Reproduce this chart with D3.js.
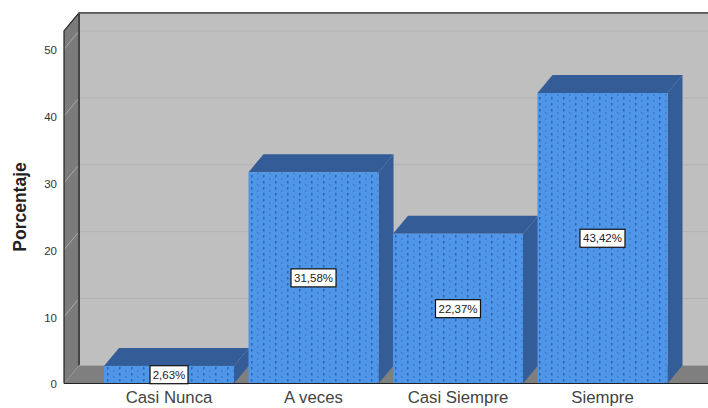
<!DOCTYPE html>
<html><head><meta charset="utf-8">
<script src="https://cdn.jsdelivr.net/npm/d3@7"></script>
<style>html,body{margin:0;padding:0;background:#fff;overflow:hidden}svg{display:block}text{font-family:"Liberation Sans",Arial,sans-serif}</style>
</head><body><div id="c"></div>
<script>
const categories=["Casi Nunca","A veces","Casi Siempre","Siempre"];
const values=[2.63,31.58,22.37,43.42];
const valueLabels=["2,63%","31,58%","22,37%","43,42%"];
const yTicks=[0,10,20,30,40,50];
const W=708,H=408,dx=15,dy=18,x0=64,yb=383.5;
const svg=d3.select("#c").append("svg").attr("width",W).attr("height",H);
const y=d3.scaleLinear().domain([0,52.7]).range([yb,yb-52.7*6.69]);
const x=d3.scaleBand().domain(categories).range([104,667.5]).paddingInner(0.1);
const line=p=>d3.line()(p)+"Z";
const defs=svg.append("defs");
const pat=defs.append("pattern").attr("id","dots").attr("patternUnits","userSpaceOnUse").attr("width",12).attr("height",6).attr("x",104).attr("y",0);
pat.append("rect").attr("width",12).attr("height",6).attr("fill","#4f95e8");
pat.append("rect").attr("x",3).attr("y",1).attr("width",1.5).attr("height",2.5).attr("fill","#2a66b8");
pat.append("rect").attr("x",9).attr("y",4).attr("width",1.5).attr("height",2).attr("fill","#3f7fd0");
const plotTop=y(y.domain()[1]);
// back wall, left wall, floor
svg.append("path").attr("d",line([[x0+dx,plotTop-dy],[W,plotTop-dy],[W,yb-dy],[x0+dx,yb-dy]])).attr("fill","#bfbfbf");
svg.append("path").attr("d",line([[x0,plotTop],[x0+dx,plotTop-dy],[x0+dx,yb-dy],[x0,yb]])).attr("fill","#7b7b7b");
svg.append("path").attr("d",line([[x0,yb],[x0+dx,yb-dy],[W,yb-dy],[W,yb]])).attr("fill","#7f7f7f");
// gridlines
yTicks.slice(1).forEach(t=>{
 svg.append("line").attr("x1",x0+dx).attr("x2",W).attr("y1",y(t)-dy).attr("y2",y(t)-dy).attr("stroke","#b2b2b2");
 svg.append("line").attr("x1",x0).attr("x2",x0+dx).attr("y1",y(t)).attr("y2",y(t)-dy).attr("stroke","#a8a8a8");
});
// frame
svg.append("path").attr("d",d3.line()([[x0,yb],[x0,plotTop],[x0+dx,plotTop-dy],[W,plotTop-dy]])).attr("fill","none").attr("stroke","#222").attr("stroke-width",1.2);
svg.append("line").attr("x1",x0+dx).attr("x2",x0+dx).attr("y1",plotTop-dy).attr("y2",yb-dy).attr("stroke","#444").attr("stroke-width",2);
svg.append("line").attr("x1",x0+dx).attr("x2",W).attr("y1",yb-dy).attr("y2",yb-dy).attr("stroke","#a5a5a5");
// bars
const g=svg.selectAll("g.b").data(categories).join("g").attr("class","b");
const bw=x.bandwidth();
g.append("path").attr("d",(c,i)=>{const l=x(c),r=l+bw,t=y(values[i]);return line([[l,t],[l+dx,t-dy],[r+dx,t-dy],[r,t]])}).attr("fill","#345d98");
g.append("path").attr("d",(c,i)=>{const r=x(c)+bw,t=y(values[i]);return line([[r,t],[r+dx,t-dy],[r+dx,yb-dy],[r,yb]])}).attr("fill","#345d98");
g.append("rect").attr("x",c=>x(c)).attr("y",(c,i)=>y(values[i])).attr("width",bw).attr("height",(c,i)=>yb-y(values[i])).attr("fill","url(#dots)");
// axis base
svg.append("line").attr("x1",x0).attr("x2",W).attr("y1",yb).attr("y2",yb).attr("stroke","#222").attr("stroke-width",1.2);
// y axis
const ya=d3.axisLeft(y).tickValues(yTicks).tickSize(0).tickPadding(7);
const yg=svg.append("g").attr("transform",`translate(${x0},0)`).call(ya);
yg.select(".domain").remove();
yg.selectAll("text").attr("font-size",11.5).attr("fill","#333").attr("font-family","Liberation Sans").attr("dy",t=>t?"0.42em":"0.32em");
svg.append("text").attr("transform","translate(25.5,207) rotate(-90)").attr("text-anchor","middle").attr("font-size",17.5).attr("font-weight","bold").attr("fill","#222").text("Porcentaje");
// x axis
const xa=d3.axisBottom(x).tickSize(0).tickPadding(8);
const xg=svg.append("g").attr("transform",`translate(0,${yb})`).call(xa);
xg.select(".domain").remove();
xg.selectAll("text").attr("font-size",16.8).attr("fill","#444").attr("font-family","Liberation Sans");
// value labels
const lg=svg.selectAll("g.l").data(categories).join("g").attr("class","l")
 .attr("transform",(c,i)=>`translate(${x(c)+bw/2},${y(values[i]/2)})`);
lg.append("rect").attr("x",(c,i)=>i?-22.5:-19).attr("y",-9).attr("width",(c,i)=>i?45:38).attr("height",18).attr("fill","#fff").attr("stroke","#111").attr("stroke-width",1.2);
lg.append("text").attr("text-anchor","middle").attr("dy","0.35em").attr("font-size",11.5).attr("fill","#222").text((c,i)=>valueLabels[i]);
</script></body></html>
